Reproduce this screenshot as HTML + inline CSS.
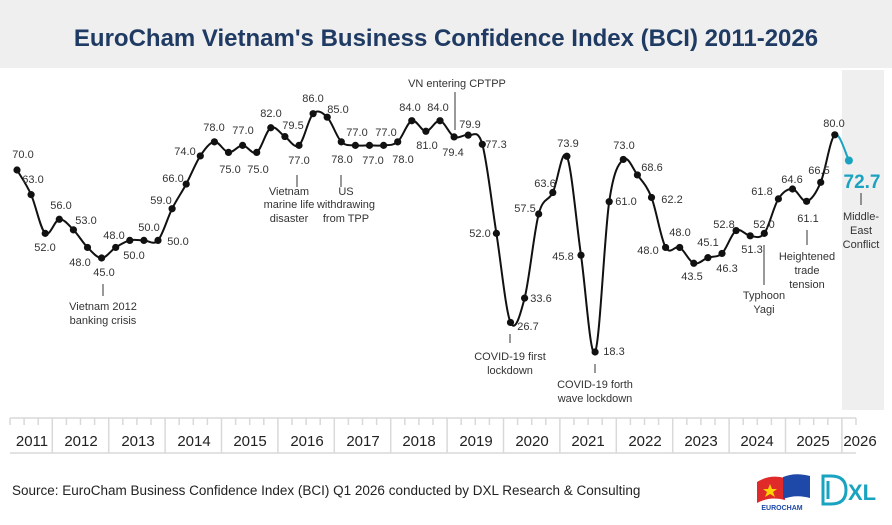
<!DOCTYPE html>
<html><head><meta charset="utf-8"><style>
html,body{margin:0;padding:0;background:#fff;}
body{width:892px;height:520px;overflow:hidden;font-family:"Liberation Sans",sans-serif;}
svg text{font-family:"Liberation Sans",sans-serif;}
</style></head><body>
<svg width="892" height="520" viewBox="0 0 892 520" xmlns="http://www.w3.org/2000/svg">
<rect x="0" y="0" width="892" height="68" fill="#efefef"/>
<text x="446" y="46" text-anchor="middle" font-size="24" font-weight="bold" fill="#1f3b63">EuroCham Vietnam's Business Confidence Index (BCI) 2011-2026</text>
<rect x="842" y="70" width="42" height="340" fill="#efefef"/>
<g id="axis" stroke="#d9d9d9" stroke-width="1.5"></g>
<g font-size="15" fill="#222" text-anchor="middle">
<text x="32" y="446">2011</text><text x="81" y="446">2012</text><text x="138" y="446">2013</text><text x="194" y="446">2014</text><text x="250" y="446">2015</text><text x="307" y="446">2016</text><text x="363" y="446">2017</text><text x="419" y="446">2018</text><text x="476" y="446">2019</text><text x="532" y="446">2020</text><text x="588" y="446">2021</text><text x="645" y="446">2022</text><text x="701" y="446">2023</text><text x="757" y="446">2024</text><text x="813" y="446">2025</text><text x="860" y="446">2026</text>
</g>
<path id="curve" fill="none" stroke="#111" stroke-width="2"/>
<path id="curve2" fill="none" stroke="#1aa3c0" stroke-width="2"/>
<g id="dots" fill="#111"></g>
<circle cx="848.9" cy="160.5" r="4" fill="#1aa3c0"/>
<g font-size="11" fill="#333" text-anchor="middle">
<text x="23" y="158">70.0</text><text x="33" y="183">63.0</text><text x="45" y="251">52.0</text><text x="61" y="209">56.0</text><text x="86" y="224">53.0</text><text x="80" y="266">48.0</text><text x="104" y="276">45.0</text><text x="114" y="239">48.0</text><text x="134" y="259">50.0</text><text x="149" y="231">50.0</text><text x="178" y="245">50.0</text><text x="161" y="204">59.0</text><text x="173" y="182">66.0</text><text x="185" y="155">74.0</text><text x="214" y="131">78.0</text><text x="230" y="173">75.0</text><text x="243" y="134">77.0</text><text x="258" y="173">75.0</text><text x="271" y="117">82.0</text><text x="293" y="129">79.5</text><text x="299" y="164">77.0</text><text x="313" y="102">86.0</text><text x="338" y="113">85.0</text><text x="342" y="163">78.0</text><text x="357" y="136">77.0</text><text x="373" y="164">77.0</text><text x="386" y="136">77.0</text><text x="403" y="163">78.0</text><text x="410" y="111">84.0</text><text x="427" y="149">81.0</text><text x="438" y="111">84.0</text><text x="453" y="156">79.4</text><text x="470" y="128">79.9</text><text x="496" y="148">77.3</text><text x="480" y="237">52.0</text><text x="528" y="330">26.7</text><text x="541" y="302">33.6</text><text x="525" y="212">57.5</text><text x="545" y="187">63.6</text><text x="568" y="147">73.9</text><text x="563" y="260">45.8</text><text x="614" y="355">18.3</text><text x="626" y="205">61.0</text><text x="624" y="149">73.0</text><text x="652" y="171">68.6</text><text x="672" y="203">62.2</text><text x="648" y="254">48.0</text><text x="680" y="236">48.0</text><text x="692" y="280">43.5</text><text x="708" y="246">45.1</text><text x="727" y="272">46.3</text><text x="724" y="228">52.8</text><text x="752" y="253">51.3</text><text x="764" y="228">52.0</text><text x="762" y="195">61.8</text><text x="792" y="183">64.6</text><text x="808" y="222">61.1</text><text x="819" y="174">66.5</text><text x="834" y="127">80.0</text>
<text x="862" y="188" font-size="19" font-weight="bold" fill="#1aa3c0">72.7</text>
<text x="103" y="310">Vietnam 2012</text><text x="103" y="324">banking crisis</text>
<text x="289" y="195">Vietnam</text><text x="289" y="208">marine life</text><text x="289" y="222">disaster</text>
<text x="346" y="195">US</text><text x="346" y="208">withdrawing</text><text x="346" y="222">from TPP</text>
<text x="457" y="87">VN entering CPTPP</text>
<text x="510" y="360">COVID-19 first</text><text x="510" y="374">lockdown</text>
<text x="595" y="388">COVID-19 forth</text><text x="595" y="402">wave lockdown</text>
<text x="764" y="299">Typhoon</text><text x="764" y="313">Yagi</text>
<text x="807" y="260">Heightened</text><text x="807" y="274">trade</text><text x="807" y="288">tension</text>
<text x="861" y="220">Middle-</text><text x="861" y="234">East</text><text x="861" y="248">Conflict</text>
</g>
<g stroke="#333" stroke-width="1">
<line x1="103" y1="284" x2="103" y2="296"/><line x1="297" y1="175" x2="297" y2="187"/><line x1="341" y1="175" x2="341" y2="187"/><line x1="455" y1="92" x2="455" y2="130"/><line x1="510" y1="334" x2="510" y2="343"/><line x1="595" y1="364" x2="595" y2="373"/><line x1="764" y1="245" x2="764" y2="285"/><line x1="807" y1="230" x2="807" y2="245"/><line x1="861" y1="193" x2="861" y2="205"/>
</g>
<text x="12" y="495" font-size="13.5" fill="#222">Source: EuroCham Business Confidence Index (BCI) Q1 2026 conducted by DXL Research &amp; Consulting</text>
<g>
<path d="M757 482 Q770 474 785 478 L785 500 Q770 496 757 503 Z" fill="#e02a2a"/>
<path d="M783 477 Q795 472 810 476 L810 498 Q796 494 783 499 Z" fill="#1f49a8"/>
<polygon points="770,484 772,489 777,489 773,492 775,497 770,494 765,497 767,492 763,489 768,489" fill="#ffd200"/>
<text x="782" y="510" font-size="7" font-weight="bold" fill="#1f49a8" text-anchor="middle">EUROCHAM</text>
<path d="M823 476 L831 476 Q846 476 846 490 Q846 504 831 504 L823 504 Z M828 481 L828 499" fill="none" stroke="#1aa3c0" stroke-width="3"/>
<text x="848" y="500" font-size="22" font-weight="bold" fill="#1aa3c0">XL</text>
</g>
</svg>
<script>
var v=[70,63,52,56,53,48,45,48,50,50,50,59,66,74,78,75,77,75,82,79.5,77,86,85,78,77,77,77,78,84,81,84,79.4,79.9,77.3,52,26.7,33.6,57.5,63.6,73.9,45.8,18.3,61,73,68.6,62.2,48,48,43.5,45.1,46.3,52.8,51.3,52,61.8,64.6,61.1,66.5,80,72.7];
var P=v.map(function(d,i){return [17+14.1*i,170+(70-d)*3.52];});
function seg(a,b,p0,p3){var c1=[a[0]+(b[0]-p0[0])/6,a[1]+(b[1]-p0[1])/6],c2=[b[0]-(p3[0]-a[0])/6,b[1]-(p3[1]-a[1])/6];return " C"+c1[0].toFixed(1)+" "+c1[1].toFixed(1)+" "+c2[0].toFixed(1)+" "+c2[1].toFixed(1)+" "+b[0].toFixed(1)+" "+b[1].toFixed(1);}
var d="M"+P[0][0]+" "+P[0][1];
for(var i=0;i<58;i++){d+=seg(P[i],P[i+1],P[Math.max(i-1,0)],P[Math.min(i+2,59)]);}
document.getElementById("curve").setAttribute("d",d);
document.getElementById("curve2").setAttribute("d","M"+P[58][0]+" "+P[58][1]+seg(P[58],P[59],P[57],P[59]));
var ns="http://www.w3.org/2000/svg",g=document.getElementById("dots");
for(var i=0;i<59;i++){var c=document.createElementNS(ns,"circle");c.setAttribute("cx",P[i][0]);c.setAttribute("cy",P[i][1]);c.setAttribute("r",3.6);g.appendChild(c);}
var ax=document.getElementById("axis");
function ln(x1,y1,x2,y2){var l=document.createElementNS(ns,"line");l.setAttribute("x1",x1);l.setAttribute("y1",y1);l.setAttribute("x2",x2);l.setAttribute("y2",y2);ax.appendChild(l);}
ln(10,418,856,418);ln(10,453,856,453);
for(var k=0;k<=60;k++){var x=10+14.1*k;var b=(k>=3&&(k-3)%4==0);ln(x,418,x,b?453:425);}
</script>
</body></html>
